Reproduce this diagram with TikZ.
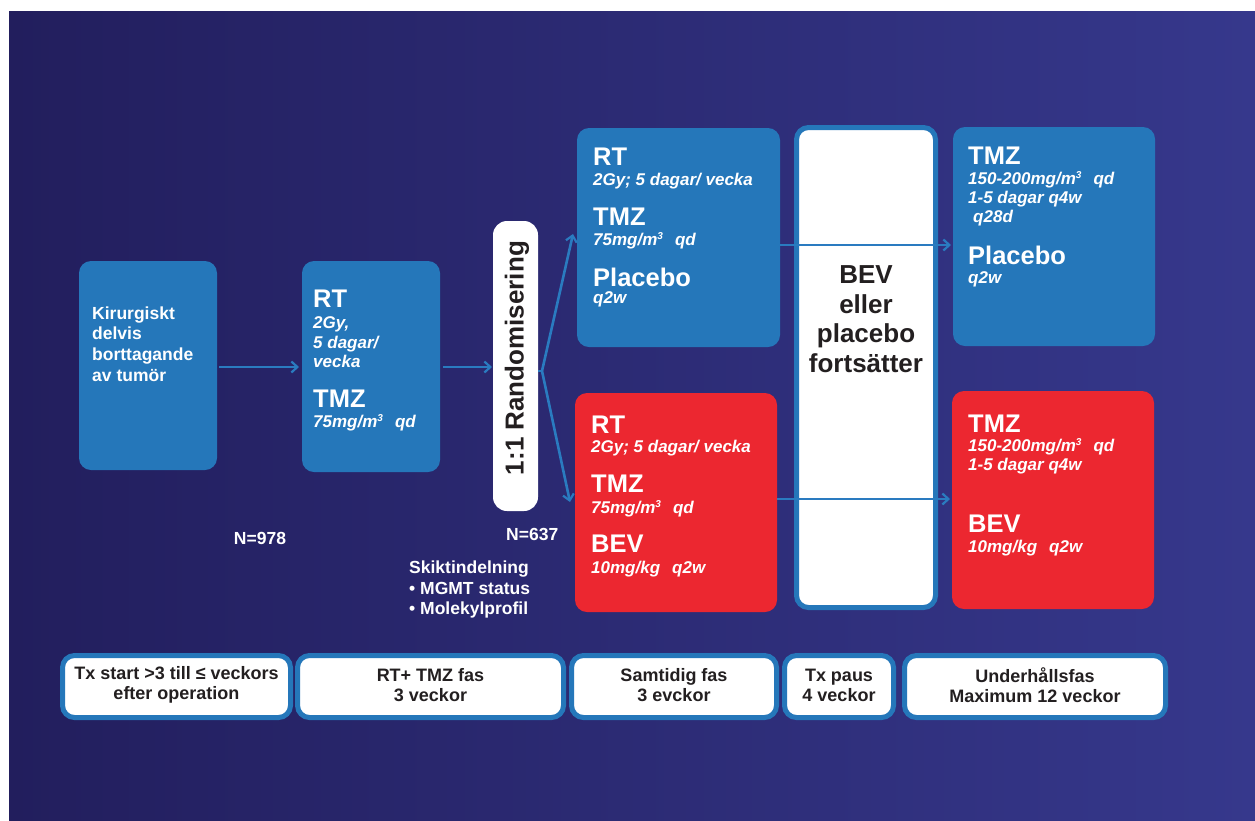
\documentclass[tikz,border=0pt]{standalone}
\usepackage{fontspec}
\setmainfont{Liberation Sans}
\usetikzlibrary{arrows.meta}
\definecolor{bgL}{HTML}{221E5D}
\definecolor{bgR}{HTML}{36388C}
\definecolor{boxblue}{HTML}{2577BA}
\definecolor{boxred}{HTML}{EC2730}
\definecolor{ink}{HTML}{231F20}
\definecolor{arrowblue}{HTML}{2A7BC0}
\newcommand{\Lbl}{\fontsize{25.5}{26}\selectfont\bfseries}
\newcommand{\Sub}{\fontsize{17}{18}\selectfont\bfseries\itshape}
\newcommand{\Plain}{\fontsize{17.5}{20}\selectfont\bfseries}
\newcommand{\qsp}{\hspace{12pt}}
\newcommand{\cubed}{\raisebox{6pt}{\fontsize{10}{10}\selectfont 3}}
\begin{document}
\begin{tikzpicture}[x=1pt,y=-1pt,
  panel/.style={anchor=north west, inner sep=0pt, outer sep=0pt, rounded corners=12pt},
  bluebox/.style={panel, fill=boxblue},
  redbox/.style={panel, fill=boxred},
  whitebox/.style={panel, fill=white, draw=boxblue, line width=5pt},
  phase/.style={whitebox, text=ink, align=center, font=\fontsize{18}{20}\selectfont\bfseries},
  big/.style={anchor=base west, inner sep=0pt, text=white, font=\Lbl},
  sub/.style={anchor=base west, inner sep=0pt, text=white, font=\Sub},
  plain/.style={anchor=base west, inner sep=0pt, text=white, font=\Plain},
  bevtxt/.style={anchor=base, inner sep=0pt, text=ink, font=\fontsize{26}{28}\selectfont\bfseries},
  arr/.style={draw=arrowblue, line width=2.6pt, -{Straight Barb[length=6pt,width=11pt,line width=2.2pt]}}
]
% background
\useasboundingbox (0,0) rectangle (1255,820);
\fill[white] (0,0) rectangle (1255,820);
\shade[left color=bgL, right color=bgR] (9,11) rectangle (1255,820);

% main boxes
\node[bluebox, minimum width=138pt, minimum height=209pt] (b1) at (79,261) {};
\node[bluebox, minimum width=138pt, minimum height=211pt] (b2) at (302,261) {};
\node[panel, fill=white, rounded corners=14pt, minimum width=45pt, minimum height=290pt] (rand) at (493,221) {};
\node[bluebox, minimum width=203pt, minimum height=219pt] (tl) at (577,128) {};
\node[redbox, minimum width=202pt, minimum height=219pt] (ml) at (575,393) {};
\node[whitebox, minimum width=139pt, minimum height=480pt] (bev) at (796.5,127.5) {};
\node[bluebox, minimum width=202pt, minimum height=219pt] (tr) at (953,127) {};
\node[redbox, minimum width=202pt, minimum height=218pt] (mr) at (952,391) {};

% box 1 text
\node[plain] (t11) at (92,319) {Kirurgiskt};
\node[plain] (t12) at (92,339) {delvis};
\node[plain] (t13) at (92,360) {borttagande};
\node[plain] (t14) at (92,381) {av tumör};

% box 2 text
\node[big] (t21) at (313,307) {RT};
\node[sub] (t22) at (313,328) {2Gy,};
\node[sub] (t23) at (313,348) {5 dagar/};
\node[sub] (t24) at (313,367) {vecka};
\node[big] (t25) at (313,407) {TMZ};
\node[sub] (t26) at (313,427) {75mg/m\cubed\qsp qd};

% randomisation
\node[rotate=90, inner sep=0pt, text=ink, font=\fontsize{26}{28}\selectfont\bfseries] (randtxt) at (517,358) {1:1 Randomisering};

% top left box
\node[big] (t31) at (593,165) {RT};
\node[sub] (t32) at (593,185) {2Gy; 5 dagar/ vecka};
\node[big] (t33) at (593,225) {TMZ};
\node[sub] (t34) at (593,245) {75mg/m\cubed\qsp qd};
\node[big] (t35) at (593,286) {Placebo};
\node[sub] (t36) at (593,303) {q2w};

% red middle box
\node[big] (t41) at (591,433) {RT};
\node[sub] (t42) at (591,452) {2Gy; 5 dagar/ vecka};
\node[big] (t43) at (591,492) {TMZ};
\node[sub] (t44) at (591,513) {75mg/m\cubed\qsp qd};
\node[big] (t45) at (591,552) {BEV};
\node[sub] (t46) at (591,573) {10mg/kg\qsp q2w};

% BEV box text
\node[bevtxt] (bv1) at (866,283) {BEV};
\node[bevtxt] (bv2) at (866,313) {eller};
\node[bevtxt] (bv3) at (866,342) {placebo};
\node[bevtxt] (bv4) at (866,372) {fortsätter};

% top right box
\node[big] (t51) at (968,164) {TMZ};
\node[sub] (t52) at (968,184) {150-200mg/m\cubed\qsp qd};
\node[sub] (t53) at (968,203) {1-5 dagar q4w};
\node[sub] (t54) at (973,222) {q28d};
\node[big] (t55) at (968,264) {Placebo};
\node[sub] (t56) at (968,283) {q2w};

% red right box
\node[big] (t61) at (968,432) {TMZ};
\node[sub] (t62) at (968,451) {150-200mg/m\cubed\qsp qd};
\node[sub] (t63) at (968,470) {1-5 dagar q4w};
\node[big] (t64) at (968,532) {BEV};
\node[sub] (t65) at (968,552) {10mg/kg\qsp q2w};

% free labels
\node[plain, anchor=base] (n978) at (260,544) {N=978};
\node[plain] (n637) at (506,540) {N=637};
\node[plain] (sk1) at (409,573) {Skiktindelning};
\node[plain] (sk2) at (409,594) {• MGMT status};
\node[plain] (sk3) at (409,614) {• Molekylprofil};

% phase boxes
\node[phase, minimum width=228pt, minimum height=62pt] (pA) at (62.5,655.5) {Tx start >3 till ≤ veckors\\efter operation\vspace{3pt}};
\node[phase, minimum width=266pt, minimum height=62pt] (pB) at (297.5,655.5) {RT+ TMZ fas\\3 veckor\vspace{3pt}};
\node[phase, minimum width=205pt, minimum height=62pt] (pC) at (571.5,655.5) {Samtidig fas\\3 evckor\vspace{3pt}};
\node[phase, minimum width=109pt, minimum height=62pt] (pD) at (784.5,655.5) {Tx paus\\4 veckor\vspace{3pt}};
\node[phase, minimum width=261pt, minimum height=62pt] (pE) at (904.5,655.5) {Underhållsfas\\Maximum 12 veckor\vspace{3pt}};

% connectors
\coordinate (yA) at (0,367);
\coordinate (fan) at (542,371);
\coordinate (fanT) at (573,234);
\coordinate (fanB) at (570,502);
\coordinate (yT) at (0,245);
\coordinate (yB) at (0,499);
\draw[arr, shorten <=2pt, shorten >=3pt] (b1.east |- yA) -- (b2.west |- yA);
\draw[arr, shorten <=3pt, shorten >=1pt] (b2.east |- yA) -- (rand.west |- yA);
\draw[arrowblue, line width=2.6pt] (rand.east |- fan) -- (fan);
\draw[arr] (fan) -- (fanT);
\draw[arr] (fan) -- (fanB);
\draw[arr, shorten >=2pt] (tl.east |- yT) -- (tr.west |- yT);
\draw[arr, shorten >=2pt] (ml.east |- yB) -- (mr.west |- yB);
\end{tikzpicture}
\end{document}
